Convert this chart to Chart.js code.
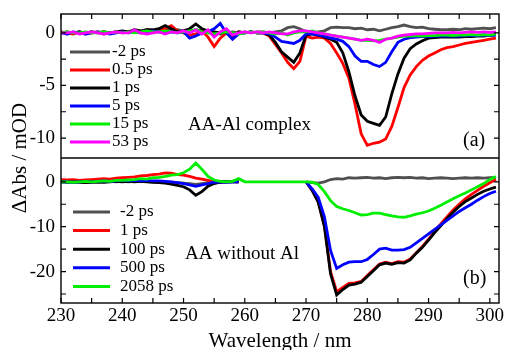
<!DOCTYPE html>
<html><head><meta charset="utf-8">
<script src="https://cdn.jsdelivr.net/npm/chart.js@4.4.1/dist/chart.umd.min.js"></script>
<style>html,body{margin:0;padding:0;background:#fff;}</style>
</head><body>
<canvas id="c" width="505" height="350"></canvas>
<script>
// ---------- DATA ----------
const wavelength = [230,231,232,233,234,235,236,237,238,239,240,241,242,243,244,245,246,247,248,249,
250,251,252,253,254,255,256,257,258,259,260,261,262,263,264,265,266,267,268,269,
270,271,272,273,274,275,276,277,278,279,280,281,282,283,284,285,286,287,288,289,
290,291,292,293,294,295,296,297,298,299,300,301];

// panel (a): AA-Al complex
const topLabels = ['-2 ps','0.5 ps','1 ps','5 ps','15 ps','53 ps'];
const topM2 = [0.1,-0.1,0,0.1,0,0.1,0.05,0.1,0,0.1, 0.15,0.1,0.2,0.1,0.2,0.15,0.2,0.3,0.2,0.3,
 0.2,0.1,0.3,0.2,0.1,0,-0.1,0,0.1,0, 0.1,0,0.1,
 0.1,0,0.1,0.2,0.5,0.6,0.4,0.1,0,0.1, 0.2,0.5,0.55,0.5,0.5,0.4,0.45,0.3,0.35,0.2,
 0.35,0.5,0.6,0.75,0.6,0.5,0.55,0.4,0.35,0.3, 0.3,0.35,0.3,0.4,0.35,0.4,0.45,0.4,0.5];
const top05 = [0.1,0,-0.1,0.1,-0.1,0,0.1,-0.1,0,0.1, 0,0.1,0.2,0,0.3,0.2,0.3,0.4,0.7,0.2,
 0,-0.2,-0.1,0.2,-0.4,-1.3,-0.5,0,-0.2,0.1, 0,0.1,0,
 0,-0.3,-1.1,-1.9,-2.8,-3.4,-2.7,-0.3,-0.5,-0.4, -0.5,-1.0,-1.9,-2.9,-4.3,-6.8,-9.6,-10.7,-10.5,-10.4,
 -10.1,-8.9,-7.1,-5.2,-4.0,-3.2,-2.6,-2.2,-1.9,-1.6, -1.4,-1.3,-1.15,-1.0,-0.9,-0.8,-0.7,-0.6,-0.5];
const top1 = [0,0.1,0,0.1,0,0.1,0,0.1,0,0.1, 0.2,0.1,0.3,0.2,0.3,0.3,0.4,0.7,0.4,0.1,
 0.2,0.4,0.85,0.4,0.2,0.1,0,0.1,-0.5,0.1, 0,0.1,0,
 0,-0.2,-0.9,-1.8,-2.3,-2.8,-1.9,-0.2,-0.1,-0.2, -0.4,-0.6,-0.9,-1.9,-3.7,-6.0,-7.8,-8.4,-8.6,-8.8,
 -8.0,-5.8,-3.9,-2.4,-1.5,-1.05,-0.75,-0.5,-0.45,-0.4, -0.4,-0.4,-0.4,-0.35,-0.35,-0.3,-0.3,-0.2,-0.15];
const top5 = [0,-0.1,0.1,0,-0.1,0,0.1,0,-0.1,0, 0.1,0,0.1,0,0.1,0.2,0.1,0,0.1,0,
 0.1,-0.5,-0.3,0,0.1,0.4,0.9,0,-0.6,-0.1, 0,0.1,0,
 0,-0.1,-0.4,-0.8,-0.9,-1.0,-0.7,-0.1,-0.1,-0.2, -0.3,-0.5,-0.6,-0.8,-1.3,-2.2,-2.7,-2.7,-3.0,-3.2,
 -2.8,-1.8,-0.9,-0.6,-0.45,-0.4,-0.35,-0.35,-0.3,-0.3, -0.3,-0.3,-0.3,-0.25,-0.25,-0.25,-0.2,-0.25,-0.2];
const top15 = [0,0.1,0,0,0.1,0,0,0.1,0,0.1, 0,0.1,0,0.1,0.2,0.1,0.1,0.2,0.1,0,
 0.1,0.2,0.3,0.1,0,-0.1,0,0.1,0,-0.1, 0,0.1,0,
 0.1,0,-0.1,0,-0.2,0,0.1,0.1,0.2,0, -0.1,-0.2,-0.3,-0.4,-0.5,-0.6,-0.7,-0.7,-0.75,-0.7,
 -0.6,-0.5,-0.4,-0.3,-0.3,-0.25,-0.3,-0.25,-0.25,-0.2, -0.2,-0.25,-0.2,-0.2,-0.15,-0.2,-0.15,-0.2,-0.1];
const top53 = [0,0,0.1,-0.1,0,0.1,0,-0.1,0,0.1, 0,0,0.3,0,-0.1,0,0.1,-0.1,0.1,0,
 0.2,0,0.3,-0.1,0.3,-0.4,0.1,0.4,-0.2,0, 0.1,0,0.1,
 0,0.1,0,-0.1,-0.1,0.1,0.2,0.2,0.1,0, -0.1,-0.2,-0.3,-0.4,-0.5,-0.6,-0.7,-0.6,-0.7,-0.9,
 -0.6,-0.5,-0.3,-0.2,-0.15,-0.1,-0.1,-0.05,0,0, 0,0.05,0,0.05,0.1,0.05,0.1,0.05,0.1];

// panel (b): AA without Al
const botLabels = ['-2 ps','1 ps','100 ps','500 ps','2058 ps'];
const N = null;
const botM2 = [0,0.1,-0.1,0,0.1,0,-0.1,0,0.1,0, 0.1,0,0.1,0.2,0.1,0,0.1,0,-0.1,-0.2,
 -0.3,-0.4,-0.6,-0.4,-0.2,0,0.1,0,0, 0, N,N,N,N,N,N,N,N,N,N, 0,
 -0.2,-0.3,0,0.5,0.7,0.6,0.9,0.8,0.9,1.0, 0.8,0.9,0.7,0.9,1.0,0.9,1.0,0.8,0.9,0.7,
 0.8,0.9,0.8,0.7,0.8,0.9,0.8,0.9,0.8,0.9, 1.0];
const bot1 = [0.5,0.4,0.5,0.3,0.4,0.5,0.6,0.7,0.6,0.8, 0.9,1.0,1.1,1.3,1.4,1.6,1.7,2.0,1.9,1.6,
 1.5,1.2,0.8,0.6,0.3,0,-0.1,0,0.1, 0, N,N,N,N,N,N,N,N,N,N, 0,
 -1.9,-4.4,-9.8,-20,-24.5,-23.5,-22.6,-22.5,-22.2,-20.9, -19.6,-18.3,-17.9,-18.2,-17.8,-17.9,-17.2,-15.8,-14.4,-12.8,
 -11.0,-9.4,-7.8,-6.3,-5.0,-3.8,-2.8,-1.9,-1.0,-0.2, 0.5];
const bot100 = [0,-0.1,0,-0.1,-0.2,-0.1,0,-0.1,0,0.1, 0,0.1,0,0.1,0,-0.1,-0.2,-0.3,-0.5,-0.8,
 -1.1,-1.8,-3.0,-2.2,-1.0,-0.4,-0.1,0,0, 0, N,N,N,N,N,N,N,N,N,N, 0,
 -1.9,-4.6,-10,-20.5,-25.2,-24.0,-23.0,-22.8,-22.4,-21.1, -19.8,-18.5,-18.1,-18.4,-18.0,-18.1,-17.4,-15.9,-14.6,-13.0,
 -11.3,-9.8,-8.2,-6.8,-5.5,-4.4,-3.6,-2.8,-2.1,-1.6, -1.2];
const bot500 = [0,0,-0.1,0,0.1,0,0.1,0.2,0.1,0.2, 0.3,0.2,0.3,0.2,0.3,0.2,0.2,0.1,0,-0.2,
 -0.4,-0.7,-1.0,-0.7,-0.4,-0.1,0,-0.1,0, 0, N,N,N,N,N,N,N,N,N,N, 0,
 -1.6,-3.5,-7.8,-15.3,-19.3,-18.5,-17.9,-17.8,-17.8,-17.3, -16.2,-15.0,-14.8,-15.2,-15.2,-15.1,-14.6,-13.6,-12.6,-11.6,
 -10.6,-9.6,-8.6,-7.6,-6.6,-5.8,-5.0,-4.1,-3.3,-2.6, -2.1];
const bot2058 = [0,0,-0.1,0,0.1,0,0.1,0.2,0.1,0.3, 0.3,0.4,0.5,0.7,0.6,0.9,1.0,1.2,1.5,1.6,
 2.0,2.8,4.2,2.8,1.2,0.4,0.1,0,0.1, 0.7, 0,0,0,0,0,0,0,0,0,0, 0,
 -0.1,-0.6,-2.2,-4.2,-5.5,-6.0,-6.4,-6.9,-7.4,-7.3, -7.0,-7.0,-7.3,-7.6,-7.8,-7.9,-7.6,-7.2,-6.9,-6.5,
 -5.9,-5.2,-4.5,-3.8,-3.1,-2.5,-1.8,-1.1,-0.4,0.5, 1.2];

// ticks
const xTickLabels = [230,240,250,260,270,280,290,300];
const xMinorTicks = [235,245,255,265,275,285,295];
const topYTicks = [0,-5,-10];
const topYMinor = [-2.5,-7.5];
const botYTicks = [0,-10,-20];
const botYMinor = [-5,-15,-25];

// ---------- STYLE ----------
const topColors = ['#505050','#ff0000','#000000','#0000ff','#00ee00','#ff00ff'];
const botColors = ['#505050','#ff0000','#000000','#0000ff','#00ee00'];
const X_MIN = 230, X_MAX = 301.5;
const TOP_MIN = -11.9, TOP_MAX = 1.8;
const BOT_MIN = -27, BOT_MAX = 5.3;
const SPLIT = 144/289;
const SERIF = '"Liberation Serif", "Times New Roman", serif';

const topSeries = [topM2, top05, top1, top5, top15, top53];
const botSeries = [botM2, bot1, bot100, bot500, bot2058];

function mk(vals, label, color, axis, order){
  return {label, data: wavelength.map((x,i)=>({x, y: vals[i]})), yAxisID: axis,
    borderColor: color, borderWidth: 2.8, pointRadius: 0, fill: false, tension: 0,
    spanGaps: false, order};
}
const datasets = [];
topSeries.forEach((s,i)=>datasets.push(mk(s, topLabels[i], topColors[i], 'yTop', 20 - i)));
botSeries.forEach((s,i)=>datasets.push(mk(s, botLabels[i], botColors[i], 'yBot', 10 - i)));

const decor = {
  id: 'decor',
  afterDatasetsDraw(chart){
    const ctx = chart.ctx, a = chart.chartArea;
    const xs = chart.scales.x, yt = chart.scales.yTop, yb = chart.scales.yBot;
    const yDiv = yt.getPixelForValue(TOP_MIN);
    ctx.save();
    ctx.strokeStyle = '#000'; ctx.fillStyle = '#000';
    // frame
    ctx.lineWidth = 1.4;
    ctx.strokeRect(a.left, a.top, a.right - a.left, a.bottom - a.top);
    ctx.beginPath(); ctx.moveTo(a.left, yDiv); ctx.lineTo(a.right, yDiv); ctx.stroke();
    // x ticks (inward, top and bottom)
    ctx.lineWidth = 1.2;
    const xt = xTickLabels.concat(xMinorTicks);
    ctx.beginPath();
    xt.forEach(v=>{
      const px = xs.getPixelForValue(v);
      ctx.moveTo(px, a.top); ctx.lineTo(px, a.top + 5);
      ctx.moveTo(px, a.bottom); ctx.lineTo(px, a.bottom - 5);
    });
    // y ticks
    const yTicksDraw = (scale, vals)=>vals.forEach(v=>{
      const py = scale.getPixelForValue(v);
      ctx.moveTo(a.left, py); ctx.lineTo(a.left + 5, py);
      ctx.moveTo(a.right, py); ctx.lineTo(a.right - 5, py);
    });
    yTicksDraw(yt, topYTicks.concat(topYMinor));
    yTicksDraw(yb, botYTicks.concat(botYMinor));
    ctx.stroke();
    // tick labels
    ctx.font = '19px ' + SERIF;
    ctx.textAlign = 'center'; ctx.textBaseline = 'top';
    xTickLabels.forEach(v=>ctx.fillText(String(v), xs.getPixelForValue(v), a.bottom + 4));
    ctx.textAlign = 'right'; ctx.textBaseline = 'middle';
    topYTicks.forEach(v=>ctx.fillText(String(v), a.left - 6, yt.getPixelForValue(v)));
    botYTicks.forEach(v=>ctx.fillText(String(v), a.left - 6, yb.getPixelForValue(v)));
    // axis titles
    ctx.font = '21px ' + SERIF;
    ctx.textAlign = 'center'; ctx.textBaseline = 'middle';
    ctx.fillText('Wavelength / nm', (a.left + a.right)/2 - 0, a.bottom + 38);
    ctx.save();
    ctx.translate(20, yDiv);
    ctx.rotate(-Math.PI/2);
    ctx.fillText('\u0394Abs / mOD', 0, 0);
    ctx.restore();
    // legends
    ctx.font = '17px ' + SERIF;
    ctx.textAlign = 'left'; ctx.textBaseline = 'middle';
    topLabels.forEach((lab,i)=>{
      const y = a.top + 38 + i*18;
      ctx.strokeStyle = topColors[i]; ctx.lineWidth = 3;
      ctx.beginPath(); ctx.moveTo(a.left + 9, y); ctx.lineTo(a.left + 49, y); ctx.stroke();
      ctx.fillText(lab, a.left + 51, y);
    });
    botLabels.forEach((lab,i)=>{
      const y = yDiv + 54 + i*18.6;
      ctx.strokeStyle = botColors[i]; ctx.lineWidth = 3;
      ctx.beginPath(); ctx.moveTo(a.left + 12, y); ctx.lineTo(a.left + 49, y); ctx.stroke();
      ctx.fillText(lab, a.left + 59, y);
    });
    // annotations
    ctx.font = '19px ' + SERIF;
    ctx.fillText('AA-Al complex', 188, 125);
    ctx.fillText('AA without Al', 185, 254);
    ctx.font = '20px ' + SERIF;
    ctx.fillText('(a)', 463, 141);
    ctx.fillText('(b)', 463, 279);
    ctx.restore();
  }
};

new Chart(document.getElementById('c'), {
  type: 'line',
  data: { datasets },
  options: {
    responsive: false, animation: false,
    layout: { padding: { left: 61, right: 6, top: 14, bottom: 47 } },
    plugins: { legend: { display: false }, tooltip: { enabled: false } },
    scales: {
      x: { type: 'linear', min: X_MIN, max: X_MAX, display: false },
      yTop: { type: 'linear', display: false, max: TOP_MAX, min: TOP_MAX - (TOP_MAX - TOP_MIN)/SPLIT },
      yBot: { type: 'linear', display: false, min: BOT_MIN, max: BOT_MIN + (BOT_MAX - BOT_MIN)/(1 - SPLIT) }
    }
  },
  plugins: [decor]
});
</script>
</body></html>
